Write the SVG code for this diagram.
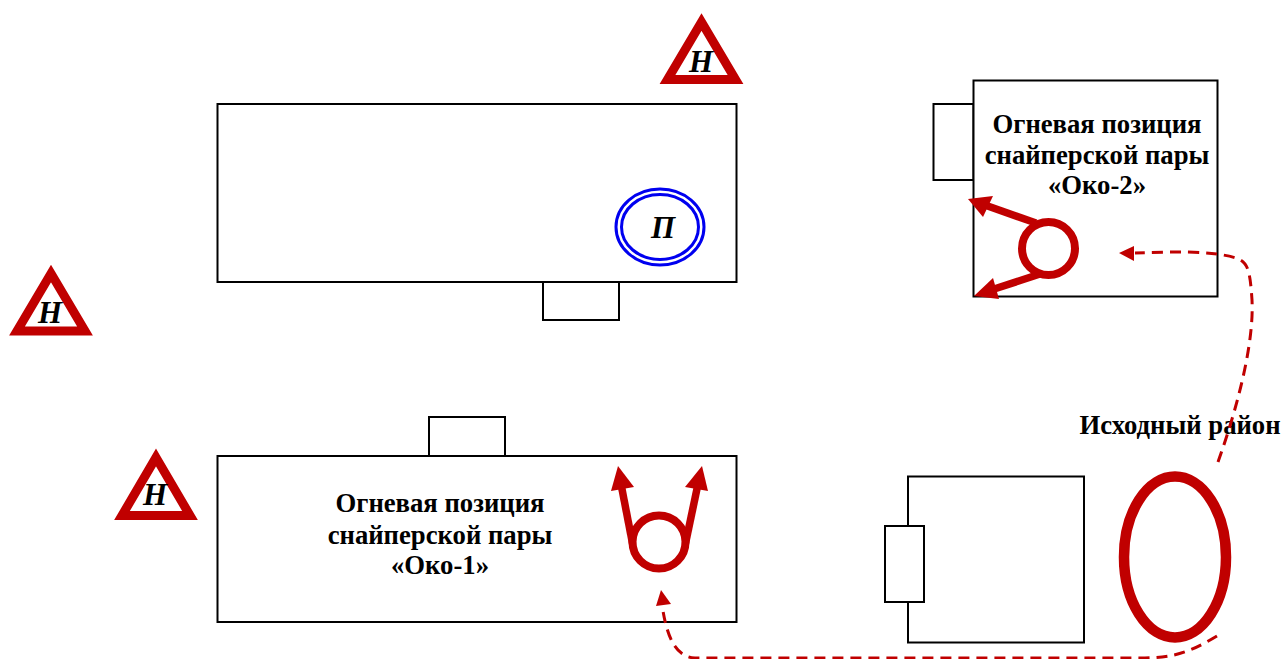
<svg xmlns="http://www.w3.org/2000/svg" width="1283" height="659" viewBox="0 0 1283 659">
<defs>
<style>
.box{fill:#fff;stroke:#000;stroke-width:2}
.tri{fill:#fff;stroke:#c00000;stroke-width:9;stroke-linejoin:miter}
.ring{fill:none;stroke:#c00000;stroke-width:8}
.thick{fill:none;stroke:#c00000;stroke-width:7.500}
.dash{fill:none;stroke:#c00000;stroke-width:3;stroke-dasharray:11 7}
.head{fill:#c00000}
.blue{fill:none;stroke:#0000f0;stroke-width:3}
text{font-family:"Liberation Serif","Times New Roman",serif;fill:#000;font-weight:bold}
.lab{font-size:26.700px;text-anchor:middle}
.mark{font-size:31px;font-style:italic;text-anchor:middle}
</style>
</defs>
<g id="building-top">
<rect class="box" x="217.500" y="104" width="519" height="178"/>
<rect class="box" x="543" y="282" width="76" height="38"/>
</g>
<g id="building-oko1">
<rect class="box" x="429" y="417" width="76" height="39"/>
<rect class="box" x="217.500" y="456" width="519" height="166"/>
</g>
<g id="building-oko2">
<rect class="box" x="933.500" y="104" width="40" height="76"/>
<rect class="box" x="973.500" y="80.500" width="244" height="216"/>
</g>
<g id="building-start">
<rect class="box" x="908" y="476.500" width="176" height="166"/>
<rect class="box" x="885" y="526" width="39" height="76"/>
</g>
<g id="target">
<ellipse class="blue" cx="660" cy="227" rx="44" ry="38"/>
<ellipse class="blue" cx="660" cy="227" rx="38.500" ry="32.500"/>
<text class="mark" x="663" y="238">П</text>
</g>
<g id="obs-1">
<polygon class="tri" points="701.500,22 735.500,79.500 667.500,79.500"/>
<text class="mark" x="701" y="72">Н</text>
</g>
<g id="obs-2">
<polygon class="tri" points="51,273.500 85,331 17,331"/>
<text class="mark" x="50" y="323">Н</text>
</g>
<g id="obs-3">
<polygon class="tri" points="156,457.500 190,515.500 122,515.500"/>
<text class="mark" x="155" y="505">Н</text>
</g>
<g id="label-oko1">
<text class="lab" x="440" y="512">Огневая позиция</text>
<text class="lab" x="440" y="544">снайперской пары</text>
<text class="lab" x="440" y="574">«Око-1»</text>
</g>
<g id="label-oko2">
<text class="lab" x="1097" y="133">Огневая позиция</text>
<text class="lab" x="1097" y="164">снайперской пары</text>
<text class="lab" x="1097" y="194">«Око-2»</text>
</g>
<g id="label-start">
<text class="lab" x="1180" y="434">Исходный район</text>
</g>
<g id="pair-oko1">
<circle class="ring" cx="659" cy="542" r="26.500"/>
<path class="thick" d="M632.600 544 L621 484"/>
<path class="thick" d="M685.400 544 L698 484"/>
<polygon class="head" points="618,466 634,487 611,491"/>
<polygon class="head" points="702,466 708,491 685,487"/>
</g>
<g id="pair-oko2">
<circle class="ring" cx="1048.500" cy="248.500" r="26.500"/>
<path class="thick" d="M1036 223 L982 204"/>
<path class="thick" d="M1040 274 L988 291"/>
<polygon class="head" points="968,199 993,196 983,217"/>
<polygon class="head" points="974,296 993,278 999,299"/>
</g>
<g id="start-area">
<ellipse cx="1175" cy="557" rx="51" ry="80.500" fill="none" stroke="#c00000" stroke-width="10.500"/>
</g>
<g id="connectors">
<path class="dash" d="M1218 462 C1240 400 1254 340 1252 300 C1250 270 1248 262 1236 258 C1210 250 1170 252 1135 253"/>
<polygon class="head" points="1119,253 1134,246 1134,261"/>
<path class="dash" d="M1217 636 C1190 652 1175 658 1140 658 L695 658 C677 657 668 640 663 611"/>
<polygon class="head" points="661,590 671,604 656,606"/>
</g>
</svg>
